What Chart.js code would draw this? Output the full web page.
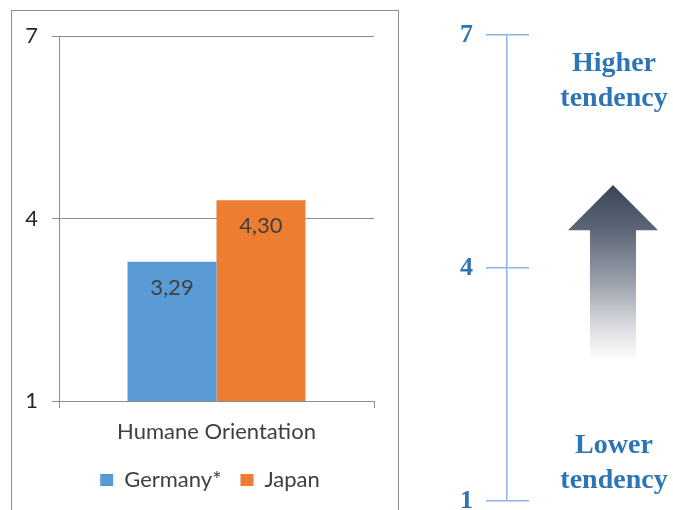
<!DOCTYPE html>
<html>
<head>
<meta charset="utf-8">
<script src="https://cdn.jsdelivr.net/npm/chart.js@4"></script>
<style>
  body { margin: 0; width: 673px; height: 510px; overflow: hidden; background: #fff; position: relative; }
  #leftWrap { position: absolute; left: 0; top: 0; width: 400px; height: 510px; }
  #rightWrap { position: absolute; left: 420px; top: 0; width: 253px; height: 510px; }
  .frame { position: absolute; left: 11px; top: 10px; width: 386px; height: 520px; border: 1px solid #8c8c8c; pointer-events: none; }
  .tend { position: absolute; left: 554px; width: 120px; text-align: center; color: #2E75B6;
          font: bold 28px "Liberation Serif", serif; line-height: 35px; }
  .arrow { position: absolute; left: 568px; top: 185px; width: 90px; height: 176px;
           clip-path: polygon(50% 0, 100% 25.7%, 75.6% 25.7%, 75.6% 100%, 24.4% 100%, 24.4% 25.7%, 0 25.7%);
           background: linear-gradient(to bottom, #3a4456 0%, #5d6677 25%, #9aa0aa 55%, #d9dbdf 80%, #ffffff 100%); }
</style>
</head>
<body>
<div id="leftWrap"><canvas id="barChart"></canvas></div>
<div class="frame"></div>
<div id="rightWrap"><canvas id="scaleChart"></canvas></div>
<div class="tend" style="top:44px">Higher<br>tendency</div>
<div class="arrow"></div>
<div class="tend" style="top:426px">Lower<br>tendency</div>
<script>
const categories = ["Humane Orientation"];
const germany = [3.29];
const japan = [4.30];
const seriesNames = ["Germany*", "Japan"];
const leftTicks = [1, 4, 7];
const rightTicks = [1, 4, 7];

const gridGray = '#8c8c8c';
const textGray = '#404040';
const sansFont = 'Lato, "Liberation Sans", sans-serif';

// value labels inside the bars
const valueLabels = {
    id: 'valueLabels',
    afterDatasetsDraw(chart) {
        const ctx = chart.ctx;
        ctx.save();
        ctx.font = '22px ' + sansFont;
        ctx.fillStyle = textGray;
        ctx.textAlign = 'center';
        ctx.textBaseline = 'middle';
        chart.data.datasets.forEach((ds, i) => {
            chart.getDatasetMeta(i).data.forEach((bar, j) => {
                ctx.fillText(ds.data[j].toFixed(2).replace('.', ','), bar.x, bar.y + 26);
            });
        });
        ctx.restore();
    }
};

// legend sits centred under the plot, not under the whole canvas
const legendShift = {
    id: 'legendShift',
    afterLayout(chart) { chart.legend.left += 46; }
};

new Chart('barChart', {
    type: 'bar',
    data: {
        labels: categories,
        datasets: [
            { label: seriesNames[0], data: germany, backgroundColor: '#5B9BD5' },
            { label: seriesNames[1], data: japan, backgroundColor: '#ED7D31' }
        ]
    },
    options: {
        responsive: true,
        maintainAspectRatio: false,
        animation: false,
        layout: { padding: { left: 0, right: 26, top: 36, bottom: 9 } },
        datasets: { bar: { categoryPercentage: 0.565, barPercentage: 1 } },
        scales: {
            x: {
                grid: { offset: true, drawOnChartArea: false, color: gridGray, tickLength: 7 },
                border: { display: false },
                ticks: { color: textGray, font: { size: 22, family: sansFont }, padding: 11 },
                afterFit(s) { s.height = 49; s.paddingLeft = 0; s.paddingRight = 0; }
            },
            y: {
                min: 1, max: 7,
                afterBuildTicks(s) { s.ticks = leftTicks.map(v => ({ value: v })); },
                grid: { color: gridGray, tickLength: 7 },
                border: { color: gridGray },
                ticks: { color: '#262626', font: { size: 22, family: sansFont }, padding: 14 },
                afterFit(s) { s.width = 59; s.paddingTop = 0; s.paddingBottom = 0; }
            }
        },
        plugins: {
            legend: {
                position: 'bottom',
                labels: { boxWidth: 13, boxHeight: 12, padding: 19, color: textGray, font: { size: 22, family: sansFont } }
            },
            tooltip: { enabled: false }
        }
    },
    plugins: [valueLabels, legendShift]
});

const scaleBlue = '#8EB4E3';
new Chart('scaleChart', {
    type: 'scatter',
    data: { datasets: [{ data: [] }] },
    options: {
        responsive: true,
        maintainAspectRatio: false,
        animation: false,
        layout: { padding: { left: 0, right: 144, top: 35, bottom: 9 } },
        scales: {
            x: { display: false, min: 0, max: 1 },
            y: {
                min: 1, max: 7,
                afterBuildTicks(s) { s.ticks = rightTicks.map(v => ({ value: v })); },
                grid: { color: scaleBlue, lineWidth: 1.5, tickLength: 21 },
                border: { color: scaleBlue, width: 1.5 },
                ticks: { color: '#2E75B6', font: { size: 26, weight: 'bold', family: '"Liberation Serif", serif' }, padding: 13 },
                afterFit(s) { s.width = 87; s.paddingTop = 0; s.paddingBottom = 0; }
            }
        },
        plugins: { legend: { display: false }, tooltip: { enabled: false } }
    }
});
</script>
</body>
</html>
